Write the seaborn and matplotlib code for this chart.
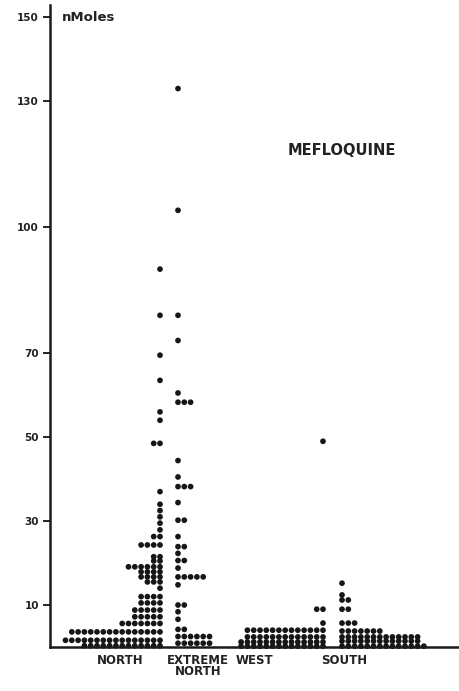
import numpy as np
import pandas as pd
import matplotlib
matplotlib.use("Agg")
import matplotlib.pyplot as plt
import seaborn as sns

# mefloquine levels (nMoles): one value per row of dots, and how many dots in that row
north_values = [0.3, 1.6, 3.6, 5.6, 7.2, 8.8, 10.5, 12.0, 14.0, 15.5, 16.7, 17.9, 19.1, 20.5, 21.5,
                24.3, 26.3, 27.9, 29.5, 31.0, 32.5, 34.0, 37.0, 48.5, 54.0, 56.0, 63.5, 69.5, 79.0, 90.0]
north_counts = [13, 16, 15, 7, 5, 5, 4, 4, 1, 3, 4, 4, 6, 2, 2,
                4, 2, 1, 1, 1, 1, 1, 1, 2, 1, 1, 1, 1, 1, 1]

extreme_values = [0.9, 2.5, 4.2, 6.6, 8.4, 10.0, 14.8, 16.7, 18.8, 20.6, 22.3, 23.9, 26.3, 30.2,
                  34.4, 38.2, 40.5, 44.4, 58.3, 60.5, 73.0, 79.0, 104.0, 133.0]
extreme_counts = [6, 6, 2, 1, 1, 2, 1, 5, 1, 2, 1, 2, 1, 2,
                  1, 3, 1, 1, 3, 1, 1, 1, 1, 1]

west_values = [0.2, 1.2, 2.4, 4.0, 5.7, 9.0, 49.0]
west_counts = [14, 14, 13, 13, 1, 2, 1]

south_values = [0.2, 1.4, 2.4, 3.8, 5.7, 9.0, 11.2, 12.4, 15.2]
south_counts = [14, 13, 13, 7, 3, 2, 2, 1, 1]

regions = ["NORTH", "EXTREME\nNORTH", "WEST", "SOUTH"]

# layout: rows of dots grow away from an anchor column (x axis in pixel-like units)
step = 6.3
anchors = [110, 128, 273, 292]
directions = [-1, 1, -1, 1]
label_pos = [70, 148, 204, 294]

rows = []
groups = [(north_values, north_counts), (extreme_values, extreme_counts),
          (west_values, west_counts), (south_values, south_counts)]
for i, (vals, cnts) in enumerate(groups):
    for v, n in zip(vals, cnts):
        for k in range(n):
            rows.append({"region": regions[i], "x": anchors[i] + directions[i] * k * step, "nmoles": v})
df = pd.DataFrame(rows)

sns.set_style("ticks")
plt.rcParams["font.family"] = ["DejaVu Sans"]

fig = plt.figure(figsize=(4.6, 6.91), dpi=100)
ax = fig.add_axes([50 / 460, 1 - 647 / 691, 408 / 460, 642 / 691])

sns.scatterplot(data=df, x="x", y="nmoles", color="#161616", s=17, edgecolor="none",
                legend=False, ax=ax, clip_on=False)

ax.set_xlim(0, 408)
ax.set_ylim(0, 152.9)
ax.set_yticks([10, 30, 50, 70, 100, 130, 150])
ax.set_yticklabels(["10", "30", "50", "70", "100", "130", "150"], fontsize=7.5, fontweight="bold", color="#222")
ax.set_xticks(label_pos)
ax.set_xticklabels(regions, fontsize=8.5, fontweight="bold", color="#222", linespacing=0.85)
ax.tick_params(axis="x", length=0, pad=5)
ax.tick_params(axis="y", length=5, width=1.4, pad=3, color="#222")
ax.set_xlabel("")
ax.set_ylabel("")

for side in ["top", "right"]:
    ax.spines[side].set_visible(False)
for side in ["left", "bottom"]:
    ax.spines[side].set_linewidth(1.8)
    ax.spines[side].set_color("#1a1a1a")

ax.text(12, 150, "nMoles", fontsize=9.5, fontweight="bold", color="#222", va="center")
ax.text(238, 118.3, "MEFLOQUINE", fontsize=10.5, fontweight="bold", color="#222", va="center")

plt.savefig("out.png", dpi=100)
